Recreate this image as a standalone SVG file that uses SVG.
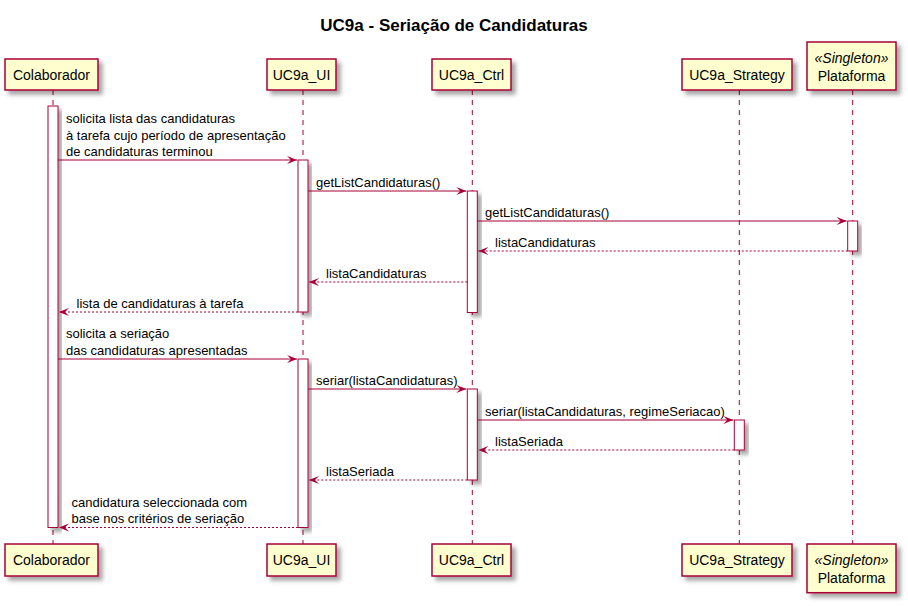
<svg xmlns="http://www.w3.org/2000/svg" width="908" height="606" viewBox="0 0 908 606">
<defs>
<filter id="sh" x="-20%" y="-20%" width="160%" height="160%">
<feGaussianBlur in="SourceAlpha" stdDeviation="2" result="b"/>
<feColorMatrix in="b" type="matrix" values="0 0 0 0 0  0 0 0 0 0  0 0 0 0 0  0 0 0 0.35 0" result="c"/>
<feOffset in="c" dx="4" dy="4" result="o"/>
<feMerge><feMergeNode in="o"/><feMergeNode in="SourceGraphic"/></feMerge>
</filter>
<marker id="ah" markerWidth="10" markerHeight="8" refX="10" refY="4" orient="auto" markerUnits="userSpaceOnUse" overflow="visible">
<path d="M0,0 L10,4 L0,8 L4,4 Z" fill="#A80036"/>
</marker>
<style>
text{font-family:"Liberation Sans",Arial,sans-serif;fill:#000}
.title{font-size:17px;font-weight:bold}
.pn{font-size:14px}
.st{font-size:14px;font-style:italic}
.msg{font-size:13px}
.box{fill:#FEFECE;stroke:#A80036;stroke-width:1.5;filter:url(#sh)}
.act{fill:#FFFFFF;stroke:#A80036;stroke-width:1;filter:url(#sh)}
.life{stroke:#A80036;stroke-width:1;stroke-dasharray:5,5;fill:none}
.call{stroke:#A80036;stroke-width:1;fill:none;marker-end:url(#ah)}
.ret{stroke:#A80036;stroke-width:1;stroke-dasharray:2,2;fill:none;marker-end:url(#ah)}
</style>
</defs>
<rect width="908" height="606" fill="#FFFFFF"/>
<text class="title" x="454" y="30.5" text-anchor="middle">UC9a - Seriação de Candidaturas</text>

<g id="lifelines">
<line class="life" x1="53" y1="90" x2="53" y2="544"/>
<line class="life" x1="303" y1="90" x2="303" y2="544"/>
<line class="life" x1="472.3" y1="90" x2="472.3" y2="544"/>
<line class="life" x1="739.3" y1="90" x2="739.3" y2="544"/>
<line class="life" x1="852.7" y1="90" x2="852.7" y2="544"/>
</g>

<g id="Colaborador">
<rect class="box" x="5" y="59" width="93" height="31"/>
<text class="pn" x="51.5" y="80" text-anchor="middle">Colaborador</text>
<rect class="box" x="5" y="544" width="93" height="32"/>
<text class="pn" x="51.5" y="565" text-anchor="middle">Colaborador</text>
<rect class="act" x="48" y="106" width="10" height="421.5"/>
</g>

<g id="UC9a_UI">
<rect class="box" x="267" y="59" width="69" height="31"/>
<text class="pn" x="301.5" y="80" text-anchor="middle">UC9a_UI</text>
<rect class="box" x="267" y="544" width="69" height="32"/>
<text class="pn" x="301.5" y="565" text-anchor="middle">UC9a_UI</text>
<rect class="act" x="298" y="160" width="10" height="152"/>
<rect class="act" x="298" y="359" width="10" height="168.5"/>
</g>

<g id="UC9a_Ctrl">
<rect class="box" x="432" y="59" width="79" height="31"/>
<text class="pn" x="471.5" y="80" text-anchor="middle">UC9a_Ctrl</text>
<rect class="box" x="432" y="544" width="79" height="32"/>
<text class="pn" x="471.5" y="565" text-anchor="middle">UC9a_Ctrl</text>
<rect class="act" x="467.3" y="191" width="10" height="121.5"/>
<rect class="act" x="467.3" y="389" width="10" height="91"/>
</g>

<g id="UC9a_Strategy">
<rect class="box" x="682" y="59" width="110" height="31"/>
<text class="pn" x="737" y="80" text-anchor="middle">UC9a_Strategy</text>
<rect class="box" x="682" y="544" width="110" height="32"/>
<text class="pn" x="737" y="565" text-anchor="middle">UC9a_Strategy</text>
<rect class="act" x="734.3" y="420" width="10" height="30"/>
</g>

<g id="Plataforma">
<rect class="box" x="807" y="42" width="89" height="48"/>
<text class="st" x="851.5" y="63.3" text-anchor="middle">«Singleton»</text>
<text class="pn" x="851.5" y="81" text-anchor="middle">Plataforma</text>
<rect class="box" x="807" y="544" width="89" height="48.7"/>
<text class="st" x="851.5" y="565" text-anchor="middle">«Singleton»</text>
<text class="pn" x="851.5" y="583.3" text-anchor="middle">Plataforma</text>
<rect class="act" x="847.7" y="221" width="10" height="30"/>
</g>

<g id="connectors">
<line class="call" x1="58" y1="160" x2="297" y2="160"/>
<text class="msg" x="66" y="123">solicita lista das candidaturas</text>
<text class="msg" x="66" y="139.5">à tarefa cujo período de apresentação</text>
<text class="msg" x="66" y="156">de candidaturas terminou</text>

<line class="call" x1="308" y1="191" x2="466.3" y2="191"/>
<text class="msg" x="316" y="186.5">getListCandidaturas()</text>

<line class="call" x1="477.3" y1="221" x2="846.7" y2="221"/>
<text class="msg" x="485" y="216.5">getListCandidaturas()</text>

<line class="ret" x1="847.7" y1="251" x2="478.3" y2="251"/>
<text class="msg" x="495" y="246.5">listaCandidaturas</text>

<line class="ret" x1="467.3" y1="282" x2="309" y2="282"/>
<text class="msg" x="326" y="277.5">listaCandidaturas</text>

<line class="ret" x1="298" y1="312" x2="59" y2="312"/>
<text class="msg" x="76.5" y="307.5">lista de candidaturas à tarefa</text>

<line class="call" x1="58" y1="359" x2="297" y2="359"/>
<text class="msg" x="66" y="338">solicita a seriação</text>
<text class="msg" x="66" y="354.5">das candidaturas apresentadas</text>

<line class="call" x1="308" y1="389" x2="466.3" y2="389"/>
<text class="msg" x="316" y="384.5">seriar(listaCandidaturas)</text>

<line class="call" x1="477.3" y1="420" x2="733.3" y2="420"/>
<text class="msg" x="485" y="415.5">seriar(listaCandidaturas, regimeSeriacao)</text>

<line class="ret" x1="734.3" y1="450" x2="478.3" y2="450"/>
<text class="msg" x="495" y="445.5">listaSeriada</text>

<line class="ret" x1="467.3" y1="480" x2="309" y2="480"/>
<text class="msg" x="326" y="475.5">listaSeriada</text>

<line class="ret" x1="298" y1="527.5" x2="59" y2="527.5"/>
<text class="msg" x="71.5" y="506.5">candidatura seleccionada com</text>
<text class="msg" x="71.5" y="523">base nos critérios de seriação</text>
</g>
</svg>
